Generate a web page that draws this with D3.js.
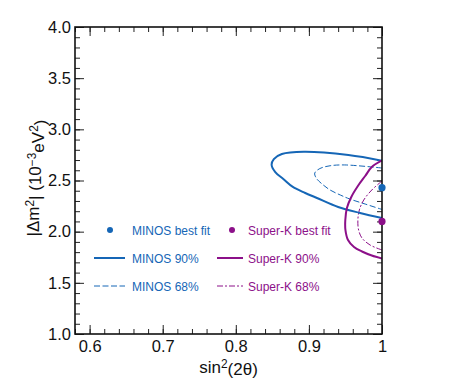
<!DOCTYPE html>
<html><head><meta charset="utf-8">
<script src="https://cdn.jsdelivr.net/npm/d3@7"></script>
<style>
html,body{margin:0;padding:0;background:#fff;}
text{font-family:"Liberation Sans",Arial,Helvetica,sans-serif;}
</style></head>
<body><svg id="chart" width="464" height="384"></svg>
<script>
// ---- data (sin^2(2θ), |Δm^2| in 1e-3 eV^2) ----
const minos90 = [[1.0,2.694],[0.954,2.749],[0.893,2.781],[0.863,2.759],[0.852,2.71],[0.849,2.652],[0.854,2.583],[0.865,2.515],[0.878,2.437],[0.895,2.378],[0.911,2.329],[0.94,2.241],[0.97,2.183],[1.0,2.134]];
const minos68 = [[1.0,2.622],[0.949,2.652],[0.929,2.644],[0.915,2.617],[0.908,2.573],[0.91,2.524],[0.918,2.466],[0.929,2.407],[0.943,2.358],[0.956,2.319],[0.977,2.27],[1.0,2.217]];
const superk90 = [[1.0,2.696],[0.986,2.632],[0.977,2.544],[0.967,2.446],[0.958,2.339],[0.952,2.231],[0.9498,2.114],[0.95,2.016],[0.9535,1.919],[0.9617,1.85],[0.9726,1.806],[0.986,1.767],[1.0,1.738]];
const superk68 = [[1.0,2.495],[0.986,2.407],[0.975,2.309],[0.969,2.212],[0.967,2.114],[0.968,2.016],[0.9726,1.938],[0.9836,1.87],[1.0,1.821]];
const minosBest = [1.0, 2.43];
const superkBest = [1.0, 2.1];
const xMajorTicks = [0.6,0.7,0.8,0.9,1.0];
const xTickLabels = ["0.6","0.7","0.8","0.9","1"];
const yMajorTicks = [1.0,1.5,2.0,2.5,3.0,3.5,4.0];
const yTickLabels = ["1.0","1.5","2.0","2.5","3.0","3.5","4.0"];
const legendLabels = ["MINOS best fit","MINOS 90%","MINOS 68%","Super-K best fit","Super-K 90%","Super-K 68%"];

const BLUE = "#1566b6", PURPLE = "#8c1089";
const svg = d3.select("#chart");
const L = 75, R = 382, T = 27, B = 334;
const x = d3.scaleLinear().domain([0.58, 1.0]).range([L, R]);
const y = d3.scaleLinear().domain([1.0, 4.0]).range([B, T]);

const xMinor = d3.range(0, 22).map(i => +(0.58 + i*0.02).toFixed(2));
const yMinor = d3.range(0, 31).map(i => +(1.0 + i*0.1).toFixed(1));

function styleAxis(g){ g.select(".domain").remove(); g.selectAll(".tick line").attr("stroke","#222").attr("stroke-width",1); }

// minor ticks
svg.append("g").attr("transform",`translate(0,${B})`).call(d3.axisBottom(x).tickValues(xMinor).tickSize(-5).tickFormat("")).call(styleAxis);
svg.append("g").attr("transform",`translate(0,${T})`).call(d3.axisTop(x).tickValues(xMinor).tickSize(-5).tickFormat("")).call(styleAxis);
svg.append("g").attr("transform",`translate(${L},0)`).call(d3.axisLeft(y).tickValues(yMinor).tickSize(-5).tickFormat("")).call(styleAxis);
svg.append("g").attr("transform",`translate(${R},0)`).call(d3.axisRight(y).tickValues(yMinor).tickSize(-5).tickFormat("")).call(styleAxis);
// major ticks
const xb = svg.append("g").attr("transform",`translate(0,${B})`)
  .call(d3.axisBottom(x).tickValues(xMajorTicks).tickSize(-9).tickPadding(6).tickFormat((d,i)=>xTickLabels[i])).call(styleAxis);
svg.append("g").attr("transform",`translate(0,${T})`).call(d3.axisTop(x).tickValues(xMajorTicks).tickSize(-9).tickFormat("")).call(styleAxis);
const yl = svg.append("g").attr("transform",`translate(${L},0)`)
  .call(d3.axisLeft(y).tickValues(yMajorTicks).tickSize(-9).tickPadding(4).tickFormat((d,i)=>yTickLabels[i])).call(styleAxis);
svg.append("g").attr("transform",`translate(${R},0)`).call(d3.axisRight(y).tickValues(yMajorTicks).tickSize(-9).tickFormat("")).call(styleAxis);
svg.selectAll(".tick text").attr("font-family","Liberation Sans, Arial, sans-serif").attr("font-size",16.5).attr("fill","#111");

// clip
svg.append("clipPath").attr("id","clip").append("rect").attr("x",L).attr("y",T).attr("width",R-L).attr("height",B-T);
const plot = svg.append("g").attr("clip-path","url(#clip)");
const line = d3.line().x(d=>x(d[0])).y(d=>y(d[1])).curve(d3.curveCatmullRom.alpha(0.5));

plot.append("path").datum(minos68).attr("d",line).attr("fill","none").attr("stroke",BLUE).attr("stroke-width",1).attr("stroke-dasharray","6,2.5");
plot.append("path").datum(superk68).attr("d",line).attr("fill","none").attr("stroke",PURPLE).attr("stroke-width",1).attr("stroke-dasharray","6,2,2,2");
plot.append("path").datum(minos90).attr("d",line).attr("fill","none").attr("stroke",BLUE).attr("stroke-width",2);
plot.append("path").datum(superk90).attr("d",line).attr("fill","none").attr("stroke",PURPLE).attr("stroke-width",2);

// frame
svg.append("rect").attr("x",L).attr("y",T).attr("width",R-L).attr("height",B-T).attr("fill","none").attr("stroke","#111").attr("stroke-width",1.6);

// best fit points
svg.append("circle").attr("cx",x(minosBest[0])).attr("cy",y(minosBest[1])).attr("r",3.6).attr("fill",BLUE);
svg.append("circle").attr("cx",x(superkBest[0])).attr("cy",y(superkBest[1])).attr("r",3.6).attr("fill",PURPLE);

// legend
const lg = svg.append("g").attr("font-size",12);
const cols = [{c:BLUE, dotX:110, lx0:94, lx1:125, tx:132, dash:"6,2.5", labels:legendLabels.slice(0,3)},
              {c:PURPLE, dotX:232, lx0:217, lx1:243, tx:248, dash:"6,2,2,2", labels:legendLabels.slice(3,6)}];
const rowY = [230, 258, 286];
cols.forEach(col=>{
  lg.append("circle").attr("cx",col.dotX).attr("cy",rowY[0]).attr("r",3).attr("fill",col.c);
  lg.append("line").attr("x1",col.lx0).attr("x2",col.lx1).attr("y1",rowY[1]).attr("y2",rowY[1]).attr("stroke",col.c).attr("stroke-width",2);
  lg.append("line").attr("x1",col.lx0).attr("x2",col.lx1).attr("y1",rowY[2]).attr("y2",rowY[2]).attr("stroke",col.c).attr("stroke-width",1).attr("stroke-dasharray",col.dash);
  col.labels.forEach((t,i)=>{
    lg.append("text").attr("x",col.tx).attr("y",rowY[i]+4.5).attr("fill",col.c).text(t);
  });
});

// axis titles
const xt = svg.append("text").attr("x",(L+R)/2).attr("y",373).attr("text-anchor","middle").attr("font-size",17).attr("fill","#111");
xt.append("tspan").text("sin");
xt.append("tspan").attr("dy","-0.45em").attr("font-size","70%").text("2");
xt.append("tspan").attr("dy","0.45em").text("(2θ)");

const yt = svg.append("text").attr("transform",`translate(39,178) rotate(-90)`).attr("text-anchor","middle").attr("font-size",17).attr("fill","#111");
yt.append("tspan").text("|Δm");
yt.append("tspan").attr("dy","-0.45em").attr("font-size","70%").text("2");
yt.append("tspan").attr("dy","0.45em").text("| (10");
yt.append("tspan").attr("dy","-0.45em").attr("font-size","70%").text("−3");
yt.append("tspan").attr("dy","0.45em").text("eV");
yt.append("tspan").attr("dy","-0.45em").attr("font-size","70%").text("2");
yt.append("tspan").attr("dy","0.45em").text(")");
</script></body></html>
